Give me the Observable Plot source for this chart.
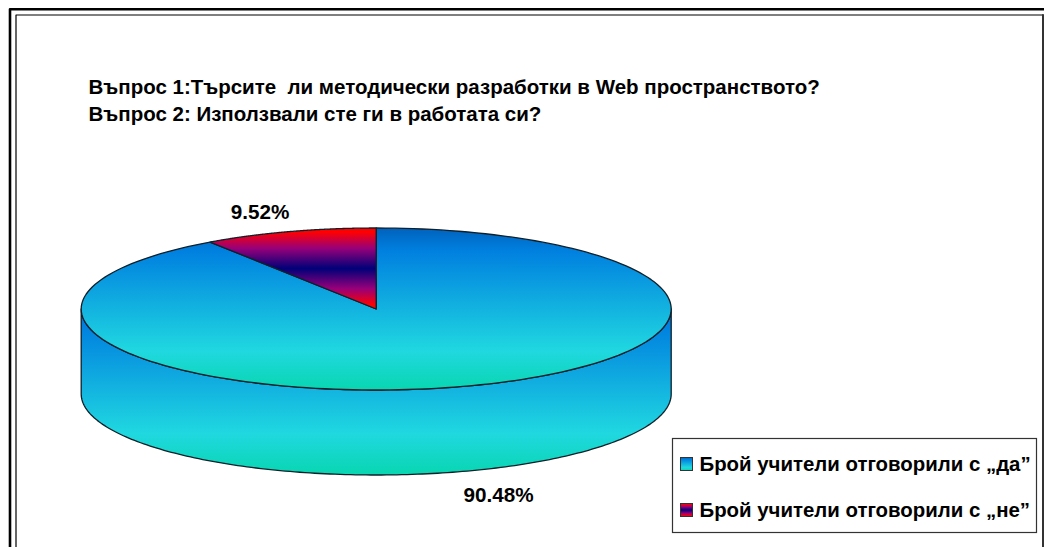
<!DOCTYPE html>
<html lang="bg">
<head>
<meta charset="utf-8">
<script src="https://cdn.jsdelivr.net/npm/d3@7"></script>
<script src="https://cdn.jsdelivr.net/npm/@observablehq/plot@0.6"></script>
<style>
  html, body { margin: 0; padding: 0; background: #fff; }
  svg { display: block; }
</style>
</head>
<body>
<script>
// Survey answers, in percent
const answers = ["да", "не"];
const shares = [90.48, 9.52];
const shareLabels = ["90.48%", "9.52%"];
const titleLines = [
  "Въпрос 1:Търсите  ли методически разработки в Web пространството?",
  "Въпрос 2: Използвали сте ги в работата си?"
];
const legendLabels = ["Брой учители отговорили с „да”", "Брой учители отговорили с „не”"];

// Page and pie geometry
const W = 1044, H = 547;
const pie = {cx: 375.7, cy: 308.5, rx: 295, ry: 81, depth: 85};
const font = "'Liberation Sans', Arial, sans-serif";

const point = (turn, dy = 0) => ({
  x: pie.cx + pie.rx * Math.sin(turn * 2 * Math.PI),
  y: pie.cy + dy - pie.ry * Math.cos(turn * 2 * Math.PI)
});
const arc = (from, to, dy = 0) =>
  d3.range(0, 181).map((i) => point(from + (to - from) * i / 180, dy));

// Slices run clockwise from twelve o'clock: the "да" share first
const total = d3.sum(shares);
const yesEnd = shares[0] / total;
const center = {x: pie.cx, y: pie.cy};
const yesSlice = [center, ...arc(0, yesEnd), center];
const noSlice = [center, ...arc(yesEnd, 1), center];
const wall = [...arc(0.25, 0.75), ...arc(0.75, 0.25, pie.depth)];
wall.push(wall[0]);

// Vertical gradients used by the pie faces and the legend keys
function gradients() {
  const stops = {
    blues: [[0, "#0062bd"], [0.14, "#0080e0"], [0.76, "#20d8e0"], [1, "#08d6b0"]],
    wallBlues: [[0, "#0074d8"], [0.1, "#0080e0"], [0.75, "#20d8e0"], [1, "#08d6b0"]],
    reds: [[0, "#ff0000"], [0.05, "#ff0000"], [0.25, "#98007a"], [0.5, "#000078"], [0.75, "#98007a"], [0.95, "#ff0000"], [1, "#ff0000"]]
  };
  const ns = "http://www.w3.org/2000/svg";
  const defs = document.createElementNS(ns, "defs");
  for (const [id, list] of Object.entries(stops)) {
    const g = document.createElementNS(ns, "linearGradient");
    g.setAttribute("id", id);
    g.setAttribute("x1", 0); g.setAttribute("x2", 0);
    g.setAttribute("y1", 0); g.setAttribute("y2", 1);
    for (const [offset, color] of list) {
      const s = document.createElementNS(ns, "stop");
      s.setAttribute("offset", offset);
      s.setAttribute("stop-color", color);
      g.appendChild(s);
    }
    defs.appendChild(g);
  }
  return defs;
}

const face = (data, fill) => Plot.line(data, {
  x: "x", y: "y", fill, stroke: "#10202a", strokeWidth: 1.3, curve: "linear"
});
const rule = (rows, stroke, strokeWidth) => Plot.line(rows, {x: "x", y: "y", stroke, strokeWidth});

const chart = Plot.plot({
  width: W, height: H,
  margin: 0,
  x: {domain: [0, W], range: [0, W], axis: null},
  y: {domain: [0, H], range: [0, H], axis: null},
  style: {background: "#fff", whiteSpace: "pre", fontFamily: font},
  marks: [
    gradients,
    // Double page border
    rule([{x: 9.5, y: H}, {x: 9.5, y: 8.7}, {x: W, y: 8.7}], "#000", 2.6),
    rule([{x: 15.5, y: H}, {x: 15.5, y: 14.5}, {x: 1042.5, y: 14.5}], "#000", 1.2),
    rule([{x: 1042.5, y: 14.5}, {x: 1042.5, y: H}], "#333", 2),
    // Pie body and top faces
    face(wall, "url(#wallBlues)"),
    face(yesSlice, "url(#blues)"),
    face(noSlice, "url(#reds)"),
    // Title
    Plot.text(titleLines, {
      x: 88, y: (d, i) => 86.5 + i * 27, text: (d) => d,
      textAnchor: "start", fontSize: 20.5, fontWeight: "bold", fill: "#000"
    }),
    // Share labels
    Plot.text(shareLabels, {
      x: [498, 259.5], y: [495, 212], text: (d) => d,
      fontSize: 20.7, fontWeight: "bold", fill: "#000"
    }),
    // Legend box
    Plot.rect([0], {x1: 672.5, x2: 1036.5, y1: 438.5, y2: 532.5, fill: "#fff", stroke: "#333", strokeWidth: 1.2}),
    Plot.rect(answers, {
      x1: 680.5, x2: 692.5, y1: (d, i) => 457.5 + i * 46, y2: (d, i) => 470.5 + i * 46,
      fill: (d, i) => i ? "url(#reds)" : "url(#blues)", stroke: "#333", strokeWidth: 1
    }),
    Plot.text(legendLabels, {
      x: 699, y: (d, i) => 463.5 + i * 46, text: (d) => d,
      textAnchor: "start", fontSize: 20.4, fontWeight: "bold", fill: "#000"
    })
  ]
});
document.body.appendChild(chart);
</script>
</body>
</html>
